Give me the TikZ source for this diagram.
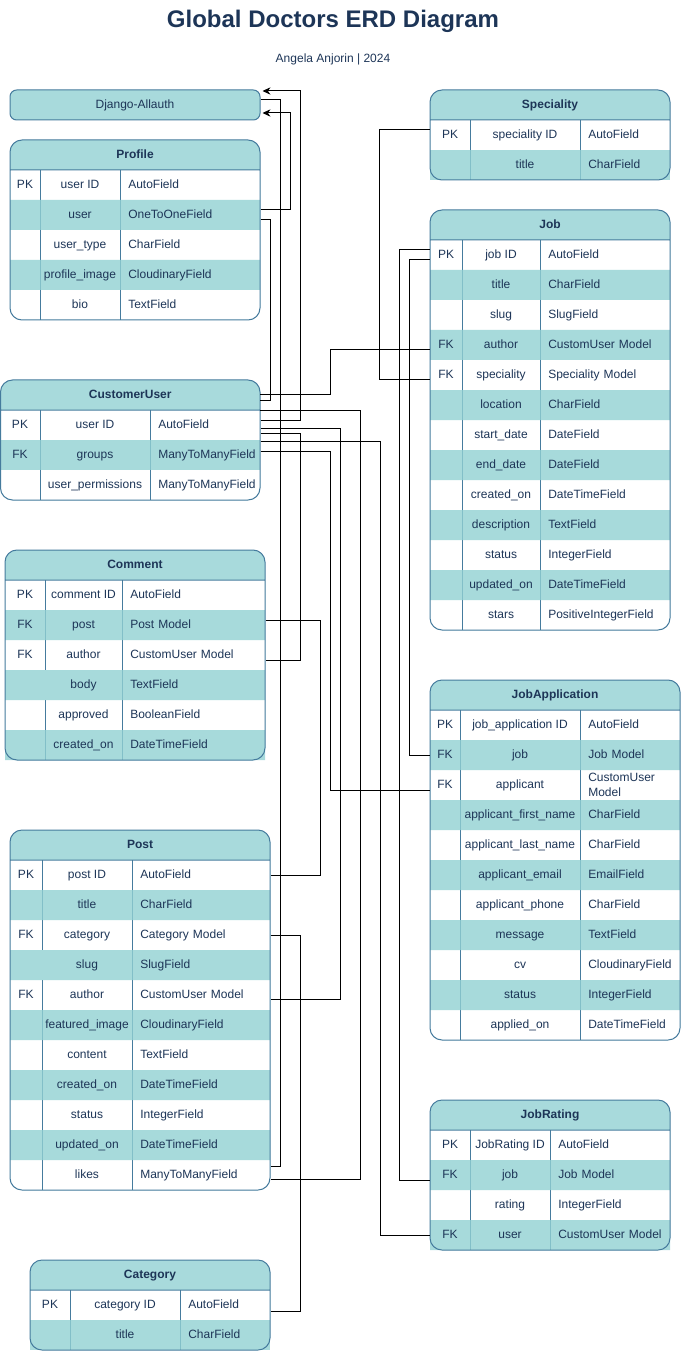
\documentclass[tikz,border=0pt]{standalone}
\usepackage{fontspec}
\setmainfont{Liberation Sans}
\usetikzlibrary{arrows.meta,calc}

\definecolor{erdfill}{HTML}{A8DADC}
\definecolor{erdband}{HTML}{92D1D3}
\definecolor{erdedge}{HTML}{457B9D}
\definecolor{erdtext}{HTML}{1D3557}

\tikzset{
  cell/.style={inner sep=0pt, minimum height=22.5pt, text height=6.5pt, text depth=1.9pt, text=erdtext, font=\fontsize{9}{11}\selectfont},
  pk/.style={cell, minimum width=#1},
  ty/.style={cell, anchor=west, text width=#1, align=left, inner xsep=6pt},
  tbltitle/.style={cell, minimum width=#1, font=\bfseries\fontsize{9}{11}\selectfont},
  frame/.style={draw=erdedge, line width=0.75pt, rounded corners=9pt},
  divider/.style={draw=erdedge, line width=0.75pt},
  band/.style={fill=erdband, fill opacity=0.8},
  link/.style={draw=black, line width=0.75pt, >={Stealth[length=6pt,width=5.5pt]}},
}

\begin{document}
\begin{tikzpicture}[x=0.75pt, y=-0.75pt]
\useasboundingbox (0,0) rectangle (681,1351);

\node[text=erdtext, font=\bfseries\fontsize{18}{22}\selectfont] (title) at (333,21) {Global Doctors ERD Diagram};
\node[cell] (byline) at (333,59) {Angela Anjorin | 2024};

\node[cell, draw=erdedge, fill=erdfill, line width=0.75pt, rounded corners=5pt, minimum width=187.5pt] (dj) at (135,105) {Django-Allauth};

% Profile
\fill[erdfill, rounded corners=9pt] (10,140) rectangle (260,320);
\fill[white] (10,170) rectangle (260,320);
\draw[divider] (40,170) -- (40,320) (120,170) -- (120,320);
\fill[band] (10,200) rectangle (260,230) (10,260) rectangle (260,290);
\draw[frame] (10,140) rectangle (260,320) (10,170) -- (260,170);
\node[tbltitle=187.5pt] (pf) at (135,155) {Profile};
\node[pk=22.5pt] (pf1k) at (25,185) {PK}; \node[cell] (pf1n) at (80,185) {user ID}; \node[ty=93pt] (pf1t) at (120,185) {AutoField};
\node[cell] (pf2n) at (80,215) {user}; \node[ty=93pt] (pf2t) at (120,215) {OneToOneField};
\node[cell] (pf3n) at (80,245) {user\_type}; \node[ty=93pt] (pf3t) at (120,245) {CharField};
\node[cell] (pf4n) at (80,275) {profile\_image}; \node[ty=93pt] (pf4t) at (120,275) {CloudinaryField};
\node[cell] (pf5n) at (80,305) {bio}; \node[ty=93pt] (pf5t) at (120,305) {TextField};

% CustomerUser
\fill[erdfill, rounded corners=9pt] (0.5,380) rectangle (260,500);
\fill[white] (0.5,410) rectangle (260,500);
\draw[divider] (40,410) -- (40,500) (150,410) -- (150,500);
\fill[band] (0.5,440) rectangle (260,470);
\draw[frame] (0.5,380) rectangle (260,500) (0.5,410) -- (260,410);
\node[tbltitle=194.6pt] (cu) at (130.25,395) {CustomerUser};
\node[pk=30pt] (cu1k) at (20,425) {PK}; \node[cell] (cu1n) at (95,425) {user ID}; \node[ty=70.5pt] (cu1t) at (150,425) {AutoField};
\node[pk=30pt] (cu2k) at (20,455) {FK}; \node[cell] (cu2n) at (95,455) {groups}; \node[ty=70.5pt] (cu2t) at (150,455) {ManyToManyField};
\node[cell] (cu3n) at (95,485) {user\_permissions}; \node[ty=70.5pt] (cu3t) at (150,485) {ManyToManyField};

% Comment
\fill[erdfill, rounded corners=9pt] (5,550) rectangle (265,760);
\fill[white] (5,580) rectangle (265,760);
\draw[divider] (45,580) -- (45,670) (45,700) -- (45,760) (122,580) -- (122,760);
\fill[band] (5,610) rectangle (265,640) (5,670) rectangle (265,700) (5,730) rectangle (265,760);
\draw[frame] (5,550) rectangle (265,760) (5,580) -- (265,580);
\node[tbltitle=195pt] (cm) at (135,565) {Comment};
\node[pk=30pt] (cm1k) at (25,595) {PK}; \node[cell] (cm1n) at (83.5,595) {comment ID}; \node[ty=95.25pt] (cm1t) at (122,595) {AutoField};
\node[pk=30pt] (cm2k) at (25,625) {FK}; \node[cell] (cm2n) at (83.5,625) {post}; \node[ty=95.25pt] (cm2t) at (122,625) {Post Model};
\node[pk=30pt] (cm3k) at (25,655) {FK}; \node[cell] (cm3n) at (83.5,655) {author}; \node[ty=95.25pt] (cm3t) at (122,655) {CustomUser Model};
\node[cell] (cm4n) at (83.5,685) {body}; \node[ty=95.25pt] (cm4t) at (122,685) {TextField};
\node[cell] (cm5n) at (83.5,715) {approved}; \node[ty=95.25pt] (cm5t) at (122,715) {BooleanField};
\node[cell] (cm6n) at (83.5,745) {created\_on}; \node[ty=95.25pt] (cm6t) at (122,745) {DateTimeField};

% Post
\fill[erdfill, rounded corners=9pt] (10,830) rectangle (270,1190);
\fill[white] (10,860) rectangle (270,1190);
\draw[divider] (42,860) -- (42,950) (42,980) -- (42,1190) (132,860) -- (132,1190);
\fill[band] (10,890) rectangle (270,920) (10,950) rectangle (270,980) (10,1010) rectangle (270,1040)
  (10,1070) rectangle (270,1100) (10,1130) rectangle (270,1160);
\draw[frame] (10,830) rectangle (270,1190) (10,860) -- (270,860);
\node[tbltitle=195pt] (po) at (140,845) {Post};
\node[pk=24pt] (po1k) at (26,875) {PK}; \node[cell] (po1n) at (87,875) {post ID}; \node[ty=91.5pt] (po1t) at (132,875) {AutoField};
\node[cell] (po2n) at (87,905) {title}; \node[ty=91.5pt] (po2t) at (132,905) {CharField};
\node[pk=24pt] (po3k) at (26,935) {FK}; \node[cell] (po3n) at (87,935) {category}; \node[ty=91.5pt] (po3t) at (132,935) {Category Model};
\node[cell] (po4n) at (87,965) {slug}; \node[ty=91.5pt] (po4t) at (132,965) {SlugField};
\node[pk=24pt] (po5k) at (26,995) {FK}; \node[cell] (po5n) at (87,995) {author}; \node[ty=91.5pt] (po5t) at (132,995) {CustomUser Model};
\node[cell] (po6n) at (87,1025) {featured\_image}; \node[ty=91.5pt] (po6t) at (132,1025) {CloudinaryField};
\node[cell] (po7n) at (87,1055) {content}; \node[ty=91.5pt] (po7t) at (132,1055) {TextField};
\node[cell] (po8n) at (87,1085) {created\_on}; \node[ty=91.5pt] (po8t) at (132,1085) {DateTimeField};
\node[cell] (po9n) at (87,1115) {status}; \node[ty=91.5pt] (po9t) at (132,1115) {IntegerField};
\node[cell] (po10n) at (87,1145) {updated\_on}; \node[ty=91.5pt] (po10t) at (132,1145) {DateTimeField};
\node[cell] (po11n) at (87,1175) {likes}; \node[ty=91.5pt] (po11t) at (132,1175) {ManyToManyField};

% Category
\fill[erdfill, rounded corners=9pt] (30,1260) rectangle (270,1350);
\fill[white] (30,1290) rectangle (270,1350);
\draw[divider] (70,1290) -- (70,1350) (180,1290) -- (180,1350);
\fill[band] (30,1320) rectangle (270,1350);
\draw[frame] (30,1260) rectangle (270,1350) (30,1290) -- (270,1290);
\node[tbltitle=180pt] (ca) at (150,1275) {Category};
\node[pk=30pt] (ca1k) at (50,1305) {PK}; \node[cell] (ca1n) at (125,1305) {category ID}; \node[ty=55.5pt] (ca1t) at (180,1305) {AutoField};
\node[cell] (ca2n) at (125,1335) {title}; \node[ty=55.5pt] (ca2t) at (180,1335) {CharField};

% Speciality
\fill[erdfill, rounded corners=9pt] (430,90) rectangle (670,180);
\fill[white] (430,120) rectangle (670,180);
\draw[divider] (470,120) -- (470,180) (580,120) -- (580,180);
\fill[band] (430,150) rectangle (670,180);
\draw[frame] (430,90) rectangle (670,180) (430,120) -- (670,120);
\node[tbltitle=180pt] (sp) at (550,105) {Speciality};
\node[pk=30pt] (sp1k) at (450,135) {PK}; \node[cell] (sp1n) at (525,135) {speciality ID}; \node[ty=55.5pt] (sp1t) at (580,135) {AutoField};
\node[cell] (sp2n) at (525,165) {title}; \node[ty=55.5pt] (sp2t) at (580,165) {CharField};

% Job
\fill[erdfill, rounded corners=9pt] (430,210) rectangle (670,630);
\fill[white] (430,240) rectangle (670,630);
\draw[divider] (462,240) -- (462,630) (540,240) -- (540,630);
\fill[band] (430,270) rectangle (670,300) (430,330) rectangle (670,360) (430,390) rectangle (670,420)
  (430,450) rectangle (670,480) (430,510) rectangle (670,540) (430,570) rectangle (670,600);
\draw[frame] (430,210) rectangle (670,630) (430,240) -- (670,240);
\node[tbltitle=180pt] (jb) at (550,225) {Job};
\node[pk=24pt] (jb1k) at (446,255) {PK}; \node[cell] (jb1n) at (501,255) {job ID}; \node[ty=85.5pt] (jb1t) at (540,255) {AutoField};
\node[cell] (jb2n) at (501,285) {title}; \node[ty=85.5pt] (jb2t) at (540,285) {CharField};
\node[cell] (jb3n) at (501,315) {slug}; \node[ty=85.5pt] (jb3t) at (540,315) {SlugField};
\node[pk=24pt] (jb4k) at (446,345) {FK}; \node[cell] (jb4n) at (501,345) {author}; \node[ty=85.5pt] (jb4t) at (540,345) {CustomUser Model};
\node[pk=24pt] (jb5k) at (446,375) {FK}; \node[cell] (jb5n) at (501,375) {speciality}; \node[ty=85.5pt] (jb5t) at (540,375) {Speciality Model};
\node[cell] (jb6n) at (501,405) {location}; \node[ty=85.5pt] (jb6t) at (540,405) {CharField};
\node[cell] (jb7n) at (501,435) {start\_date}; \node[ty=85.5pt] (jb7t) at (540,435) {DateField};
\node[cell] (jb8n) at (501,465) {end\_date}; \node[ty=85.5pt] (jb8t) at (540,465) {DateField};
\node[cell] (jb9n) at (501,495) {created\_on}; \node[ty=85.5pt] (jb9t) at (540,495) {DateTimeField};
\node[cell] (jb10n) at (501,525) {description}; \node[ty=85.5pt] (jb10t) at (540,525) {TextField};
\node[cell] (jb11n) at (501,555) {status}; \node[ty=85.5pt] (jb11t) at (540,555) {IntegerField};
\node[cell] (jb12n) at (501,585) {updated\_on}; \node[ty=85.5pt] (jb12t) at (540,585) {DateTimeField};
\node[cell] (jb13n) at (501,615) {stars}; \node[ty=85.5pt] (jb13t) at (540,615) {PositiveIntegerField};

% JobApplication
\fill[erdfill, rounded corners=9pt] (430,680) rectangle (680,1040);
\fill[white] (430,710) rectangle (680,1040);
\draw[divider] (460,710) -- (460,1040) (580,710) -- (580,1040);
\fill[band] (430,740) rectangle (680,770) (430,800) rectangle (680,830) (430,860) rectangle (680,890)
  (430,920) rectangle (680,950) (430,980) rectangle (680,1010);
\draw[frame] (430,680) rectangle (680,1040) (430,710) -- (680,710);
\node[tbltitle=187.5pt] (ja) at (555,695) {JobApplication};
\node[pk=22.5pt] (ja1k) at (445,725) {PK}; \node[cell] (ja1n) at (520,725) {job\_application ID}; \node[ty=63pt] (ja1t) at (580,725) {AutoField};
\node[pk=22.5pt] (ja2k) at (445,755) {FK}; \node[cell] (ja2n) at (520,755) {job}; \node[ty=63pt] (ja2t) at (580,755) {Job Model};
\node[pk=22.5pt] (ja3k) at (445,785) {FK}; \node[cell] (ja3n) at (520,785) {applicant}; \node[ty=63pt, text height={}, text depth={}] (ja3t) at (580,785) {CustomUser\\Model};
\node[cell] (ja4n) at (520,815) {applicant\_first\_name}; \node[ty=63pt] (ja4t) at (580,815) {CharField};
\node[cell] (ja5n) at (520,845) {applicant\_last\_name}; \node[ty=63pt] (ja5t) at (580,845) {CharField};
\node[cell] (ja6n) at (520,875) {applicant\_email}; \node[ty=63pt] (ja6t) at (580,875) {EmailField};
\node[cell] (ja7n) at (520,905) {applicant\_phone}; \node[ty=63pt] (ja7t) at (580,905) {CharField};
\node[cell] (ja8n) at (520,935) {message}; \node[ty=63pt] (ja8t) at (580,935) {TextField};
\node[cell] (ja9n) at (520,965) {cv}; \node[ty=63pt] (ja9t) at (580,965) {CloudinaryField};
\node[cell] (ja10n) at (520,995) {status}; \node[ty=63pt] (ja10t) at (580,995) {IntegerField};
\node[cell] (ja11n) at (520,1025) {applied\_on}; \node[ty=63pt] (ja11t) at (580,1025) {DateTimeField};

% JobRating
\fill[erdfill, rounded corners=9pt] (430,1100) rectangle (670,1250);
\fill[white] (430,1130) rectangle (670,1250);
\draw[divider] (470,1130) -- (470,1250) (550,1130) -- (550,1250);
\fill[band] (430,1160) rectangle (670,1190) (430,1220) rectangle (670,1250);
\draw[frame] (430,1100) rectangle (670,1250) (430,1130) -- (670,1130);
\node[tbltitle=180pt] (jr) at (550,1115) {JobRating};
\node[pk=30pt] (jr1k) at (450,1145) {PK}; \node[cell] (jr1n) at (510,1145) {JobRating ID}; \node[ty=78pt] (jr1t) at (550,1145) {AutoField};
\node[pk=30pt] (jr2k) at (450,1175) {FK}; \node[cell] (jr2n) at (510,1175) {job}; \node[ty=78pt] (jr2t) at (550,1175) {Job Model};
\node[cell] (jr3n) at (510,1205) {rating}; \node[ty=78pt] (jr3t) at (550,1205) {IntegerField};
\node[pk=30pt] (jr4k) at (450,1235) {FK}; \node[cell] (jr4n) at (510,1235) {user}; \node[ty=78pt] (jr4t) at (550,1235) {CustomUser Model};

% relations
\draw[link, ->] ($(cu1t.east)+(0,-5)$) -- ++(40,0) |- ($(dj.east)+(2,-14)$);
\draw[link] ($(dj.east)+(0,-5)$) -- ++(20,0) |- ($(po11t.east)+(0,-9)$);
\draw[link, ->] ($(pf2t.east)+(0,-5)$) -- ++(30,0) |- ($(dj.east)+(2,8)$);
\draw[link] ($(pf2t.east)+(0,5)$) -- ++(10,0) |- ($(cu.east)+(0,5)$);
\draw[link] ($(cu.east)+(0,-1)$) -- ++(70,0) |- ($(jb4k.west)+(0,5)$);
\draw[link] ($(sp1k.west)+(0,-5)$) -- ++(-50,0) |- ($(jb5k.west)+(0,5)$);
\draw[link] ($(jb1k.west)+(0,-5)$) -- ++(-30,0) |- ($(jr2k.west)+(0,5)$);
\draw[link] ($(jb1k.west)+(0,5)$) -- ++(-20,0) |- (ja2k.west);
\draw[link] ($(cu2t.east)+(0,-14)$) -- ++(120,0) |- (jr4k.west);
\draw[link] ($(cu2t.east)+(0,-4)$) -- ++(70,0) |- ($(ja3k.west)+(0,5)$);
\draw[link] (cu.south east) -- ++(100,0) |- ($(po11t.east)+(0,4)$);
\draw[link] ($(cu1t.east)+(0,3)$) -- ++(80,0) |- ($(po5t.east)+(0,4)$);
\draw[link] ($(cu1t.east)+(0,8)$) -- ++(40,0) |- ($(cm3t.east)+(0,5)$);
\draw[link] ($(cm2t.east)+(0,-5)$) -- ++(55,0) |- (po1t.east);
\draw[link] (po3t.east) -- ++(30,0) |- ($(ca1t.east)+(0,6)$);
\end{tikzpicture}
\end{document}
